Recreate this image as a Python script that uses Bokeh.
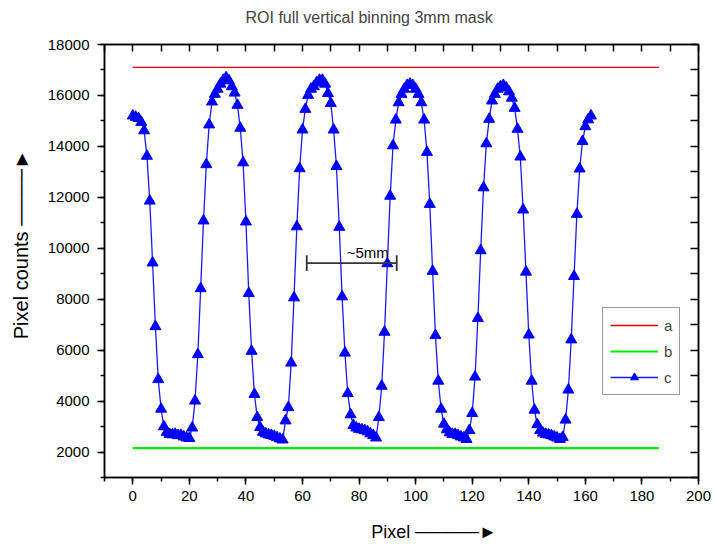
from bokeh.plotting import figure
from bokeh.models import Range1d, LinearAxis, SingleIntervalTicker, FixedTicker, Legend, LegendItem
from bokeh.core.properties import value
from bokeh.embed import file_html
from bokeh.resources import INLINE

# ---------------- data ----------------
pixel = list(range(163))
counts_c = [
    15200, 15150, 15100, 14950, 14620, 13620, 11860, 9430, 6930, 4850,
    3690, 3000, 2780, 2700, 2680, 2700, 2650, 2660, 2600, 2560,
    2540, 2950, 4010, 5830, 8420, 11080, 13290, 14850, 15750, 16050,
    16250, 16450, 16600, 16700, 16580, 16350, 16100, 15620, 14720, 13360,
    11040, 8230, 5960, 4270, 3360, 2970, 2780, 2720, 2680, 2660,
    2620, 2570, 2520, 2480, 3230, 3750, 5500, 8060, 10850, 13130,
    14650, 15460, 16010, 16250, 16350, 16500, 16600, 16600, 16450, 16080,
    15690, 14650, 13220, 10830, 8100, 5890, 4300, 3470, 3050, 2950,
    2900, 2880, 2850, 2800, 2720, 2650, 2560, 3360, 4590, 6710,
    9400, 12050, 14030, 15040, 15720, 16050, 16250, 16400, 16450, 16400,
    16250, 16050, 15720, 15040, 13770, 11730, 9100, 6580, 4790, 3690,
    3100, 2880, 2760, 2700, 2700, 2650, 2600, 2560, 2500, 2850,
    3520, 4950, 7250, 9910, 12380, 14110, 15070, 15790, 16050, 16250,
    16350, 16400, 16300, 16150, 15900, 15500, 14680, 13590, 11510, 9070,
    6600, 4790, 3650, 3080, 2850, 2750, 2700, 2680, 2650, 2600,
    2560, 2500, 2580, 3260, 4440, 6410, 8900, 11340, 13120, 14200,
    14780, 15050, 15200,
]
line_a_x = [0, 186]
line_a_y = [17100, 17100]
line_b_x = [0, 186]
line_b_y = [2150, 2150]

scale_bar_x = [61.5, 93.3]
scale_bar_y = 9420
scale_bar_cap = 310
scale_text = "~5mm"
scale_text_x = 75.6
scale_text_y = 9850

title_text = "ROI full vertical binning 3mm mask"
NB = "\u00a0"
x_label = NB * 13 + "Pixel " + "\u2500\u2500\u2500\u2500\u2500\u25BA"
y_label = NB * 6 + "Pixel counts " + "\u2500\u2500\u2500\u2500\u25BA"

top_ticks = list(range(-10, 201, 10))
right_ticks = list(range(1000, 18001, 1000))

FONT = "Liberation Sans"

p = figure(width=714, height=544, output_backend="svg", toolbar_location=None,
           x_range=Range1d(-10, 200), y_range=Range1d(1000, 18000),
           min_border_left=104, min_border_right=16, min_border_top=44, min_border_bottom=65)
p.title.text = title_text + "\n" + NB
p.title.text_font = FONT
p.title.text_font_size = "16px"
p.title.text_font_style = "normal"
p.title.align = "left"
p.title.offset = 141
p.title.standoff = 4
p.xgrid.visible = False
p.ygrid.visible = False
p.outline_line_color = "black"
p.outline_line_width = 1.5

def style_axis(ax):
    ax.axis_line_color = "black"
    ax.axis_line_width = 1.5
    ax.major_tick_line_color = "black"
    ax.minor_tick_line_color = "black"
    ax.major_tick_line_width = 1.5
    ax.minor_tick_line_width = 1.5

p.xaxis.ticker = SingleIntervalTicker(interval=20, num_minor_ticks=2)
p.yaxis.ticker = SingleIntervalTicker(interval=2000, num_minor_ticks=2)
p.xaxis.axis_label = x_label
p.yaxis.axis_label = y_label
for ax in list(p.xaxis) + list(p.yaxis):
    style_axis(ax)
    ax.major_tick_in = 0
    ax.major_tick_out = 7
    ax.minor_tick_in = 0
    ax.minor_tick_out = 4
    ax.major_label_text_font = FONT
    ax.major_label_text_font_size = "15px"
    ax.major_label_text_color = "black"
    ax.axis_label_text_font = FONT + ", DejaVu Sans"
    ax.axis_label_text_font_style = "normal"
    ax.axis_label_text_color = "black"
for ax in p.xaxis:
    ax.major_label_standoff = 6
    ax.axis_label_standoff = 18
    ax.axis_label_text_font_size = "18px"
for ax in p.yaxis:
    ax.major_label_standoff = 8
    ax.axis_label_standoff = 13
    ax.axis_label_text_font_size = "20px"

top = LinearAxis(ticker=FixedTicker(ticks=[], minor_ticks=top_ticks))
style_axis(top)
top.minor_tick_in = 7
top.minor_tick_out = 0
p.add_layout(top, "above")
right = LinearAxis(ticker=FixedTicker(ticks=[], minor_ticks=right_ticks))
style_axis(right)
right.minor_tick_in = 8
right.minor_tick_out = 0
p.add_layout(right, "right")

ra = p.line(line_a_x, line_a_y, line_color="#E00000", line_width=1.3)
rb = p.line(line_b_x, line_b_y, line_color="#00EE00", line_width=2.2)
rc_line = p.line(pixel, counts_c, line_color="#1a1aff", line_width=1.3)
rc_mark = p.scatter(pixel, counts_c, marker="triangle", size=11,
                    fill_color="#0000ff", line_color="#0000ff")

# scale bar annotation
p.segment(x0=[scale_bar_x[0]], y0=[scale_bar_y], x1=[scale_bar_x[1]], y1=[scale_bar_y],
          line_color="#333333", line_width=1.8)
p.segment(x0=scale_bar_x, y0=[scale_bar_y - scale_bar_cap] * 2,
          x1=scale_bar_x, y1=[scale_bar_y + scale_bar_cap] * 2,
          line_color="#333333", line_width=1.8)
p.text(x=[scale_text_x], y=[scale_text_y], text=[scale_text],
       text_font=value(FONT), text_font_size="15px", text_color="black",
       text_baseline="alphabetic", text_align="left")

legend = Legend(items=[LegendItem(label="a", renderers=[ra]),
                       LegendItem(label="b", renderers=[rb]),
                       LegendItem(label="c", renderers=[rc_line, rc_mark])],
                location=(498, 82))
legend.label_text_font = FONT
legend.label_text_font_size = "15px"
legend.glyph_width = 48
legend.glyph_height = 20
legend.label_height = 20
legend.label_width = 8
legend.spacing = 6
legend.padding = 7
legend.margin = 0
legend.label_standoff = 6
legend.border_line_color = "#333333"
legend.border_line_width = 1.2
legend.background_fill_color = "white"
p.add_layout(legend, "center")

open("out.html", "w").write(file_html(p, INLINE))
